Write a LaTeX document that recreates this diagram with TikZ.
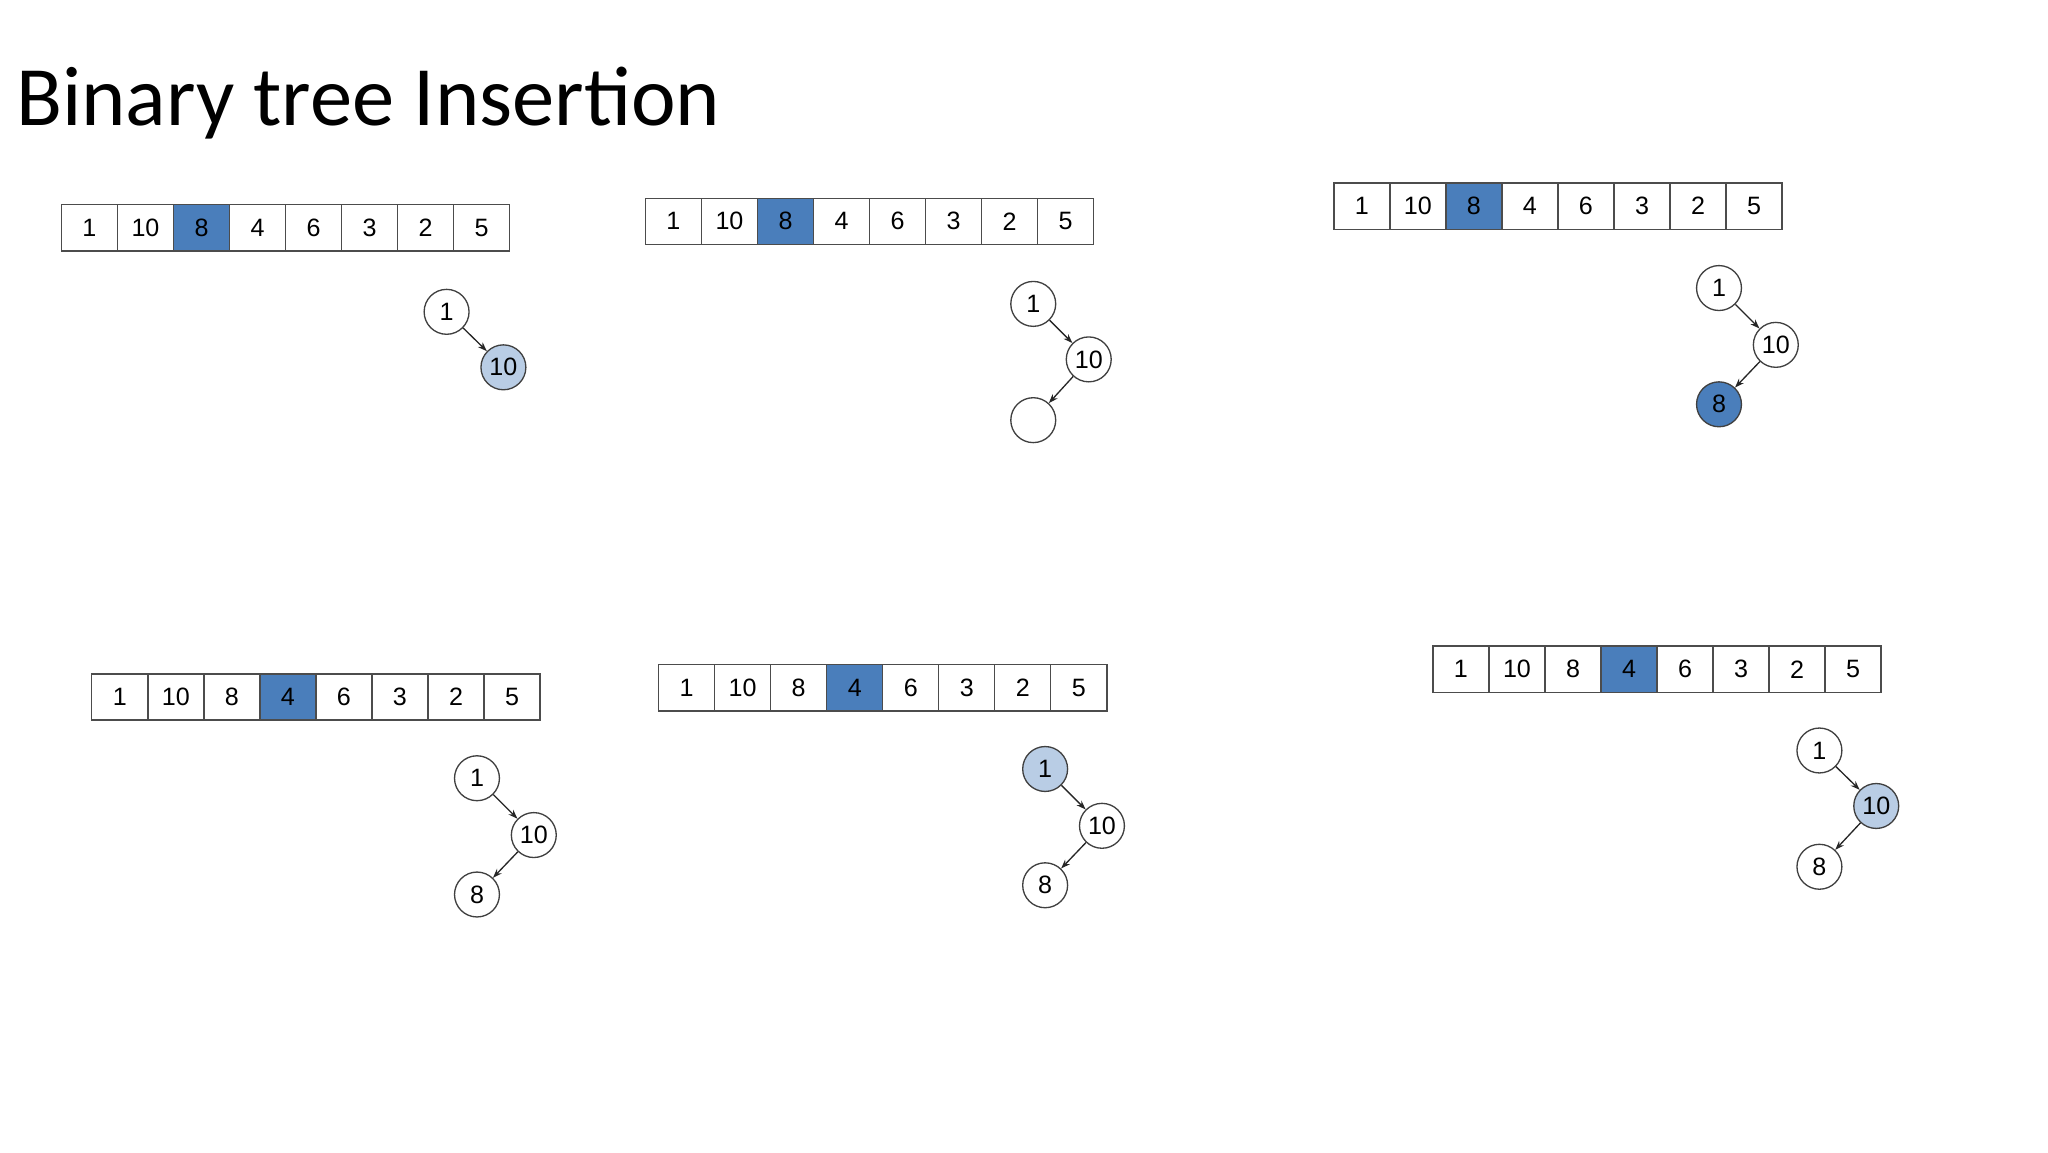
\documentclass[tikz,border=0pt]{standalone}
\usepackage{fontspec}
\setmainfont{Liberation Sans}
\newfontfamily\titlefont{Carlito}
\usetikzlibrary{arrows.meta}
\definecolor{dblue}{HTML}{4A7EBB}
\definecolor{lblue}{HTML}{B9CDE5}
\tikzset{
  cell/.style={draw=black!70,line width=1pt,minimum width=42.4pt,minimum height=35pt,inner sep=0pt,font=\fontsize{19}{19}\selectfont,anchor=west},
  hl/.style={fill=dblue},
  tnode/.style={circle,draw=black!75,line width=1pt,minimum size=34pt,inner sep=0pt,font=\fontsize{19}{19}\selectfont,fill=white},
  edge/.style={-{Stealth[length=7pt,width=5pt]},line width=1pt,black!85}
}
\newcommand{\arr}[4]{% prefix, x, y, highlighted index
  \foreach \v [count=\i] in {1,10,8,4,6,3,2,5}{
    \ifnum\i=#4
      \node[cell,hl] (#1c\i) at ({#2+(\i-1)*42.4},#3) {\v};
    \else
      \node[cell] (#1c\i) at ({#2+(\i-1)*42.4},#3) {\v};
    \fi
  }}
\begin{document}
\begin{tikzpicture}[x=1pt,y=-1pt]
\useasboundingbox (0,0) rectangle (1550,872);
\node[anchor=base west,inner sep=0pt,font=\titlefont\fontsize{64}{64}\selectfont] (title) at (12,95) {Binary tree Insertion};
% panel 1
\arr{a}{46}{172.5}{3}
\node[tnode] (a1) at (338,236) {1};
\node[tnode,fill=lblue] (a2) at (381,278) {10};
\draw[edge] (a1) -- (a2);
% panel 2
\arr{b}{488}{167.5}{3}
\node[tnode] (b1) at (782,230) {1};
\node[tnode] (b2) at (824,272) {10};
\node[tnode] (b3) at (782,318) {};
\draw[edge] (b1) -- (b2);
\draw[edge] (b2) -- (b3);
% panel 3
\arr{c}{1009}{156}{3}
\node[tnode] (c1) at (1301,218) {1};
\node[tnode] (c2) at (1344,261) {10};
\node[tnode,fill=dblue] (c3) at (1301,306) {8};
\draw[edge] (c1) -- (c2);
\draw[edge] (c2) -- (c3);
% panel 4
\arr{d}{69}{527.5}{4}
\node[tnode] (d1) at (361,589) {1};
\node[tnode] (d2) at (404,632) {10};
\node[tnode] (d3) at (361,677) {8};
\draw[edge] (d1) -- (d2);
\draw[edge] (d2) -- (d3);
% panel 5
\arr{e}{498}{520.5}{4}
\node[tnode,fill=lblue] (e1) at (791,582) {1};
\node[tnode] (e2) at (834,625) {10};
\node[tnode] (e3) at (791,670) {8};
\draw[edge] (e1) -- (e2);
\draw[edge] (e2) -- (e3);
% panel 6
\arr{f}{1084}{506.5}{4}
\node[tnode] (f1) at (1377,568) {1};
\node[tnode,fill=lblue] (f2) at (1420,610) {10};
\node[tnode] (f3) at (1377,656) {8};
\draw[edge] (f1) -- (f2);
\draw[edge] (f2) -- (f3);
\end{tikzpicture}
\end{document}
